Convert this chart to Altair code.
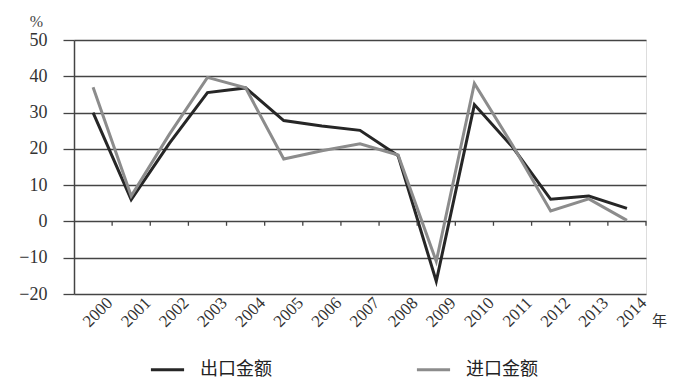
import altair as alt
import pandas as pd

years = [str(y) for y in range(2000, 2015)]
export_vals = [30, 6, 21.5, 35.5, 36.8, 27.8, 26.3, 25.1, 18.1, -16.5, 32.2, 20.5, 6.1, 7.0, 3.6]
import_vals = [37, 7, 24, 39.7, 36.8, 17.2, 19.5, 21.4, 18.3, -11, 38, 21, 2.9, 6.2, 0.3]
series_names = ["出口金额", "进口金额"]
y_ticks = [-20, -10, 0, 10, 20, 30, 40, 50]

rows = []
for name, vals in zip(series_names, [export_vals, import_vals]):
    for y, v in zip(years, vals):
        rows.append({"year": y, "value": v, "series": name})
df = pd.DataFrame(rows)
df_years = pd.DataFrame({"year": years, "zero": [0] * len(years), "low": [-1.2] * len(years)})

FONT = "Liberation Serif, Noto Sans CJK SC"

xscale = alt.Scale(domain=years, paddingInner=0, paddingOuter=0)
yscale = alt.Scale(domain=[-20, 50], nice=False)

x_axis = alt.Axis(title="年", labelAngle=-45, labelAlign="right", labelOffset=17,
                  labelBaseline="middle", labelPadding=6, labelFontSize=17,
                  labelFont=FONT, labelColor="#333", ticks=False, domain=False,
                  grid=False, titleAngle=0, titleX=585, titleY=26,
                  titleAlign="center", titleBaseline="middle", titleFontSize=15,
                  titleFontWeight="normal", titleFont=FONT, titleColor="#333")
y_axis = alt.Axis(title="%", values=y_ticks, grid=True, gridColor="#444",
                  gridWidth=1.3, tickColor="#444", tickSize=11, tickWidth=1.3,
                  domainColor="#444", domainWidth=1.5, labelPadding=16, labelOverlap=False,
                  labelFontSize=18, labelFont=FONT, labelColor="#333",
                  titleAngle=0, titleX=-38, titleY=-19, titleAlign="center",
                  titleBaseline="middle", titleFontSize=16,
                  titleFontWeight="normal", titleFont=FONT, titleColor="#444")

lines = alt.Chart(df).mark_line(strokeWidth=3).encode(
    x=alt.X("year:N", scale=xscale, sort=years, axis=x_axis),
    y=alt.Y("value:Q", scale=yscale, axis=y_axis),
    color=alt.Color("series:N", scale=alt.Scale(domain=series_names, range=["#262626", "#8c8c8c"]),
                    legend=alt.Legend(title=None, orient="none", legendX=75, legendY=311,
                                      direction="horizontal", symbolType="stroke",
                                      symbolSize=1100, symbolStrokeWidth=3,
                                      symbolStrokeColor="#2a2a2a", columnPadding=138,
                                      labelFontSize=18, labelFont=FONT, labelColor="#222",
                                      labelOffset=14)),
    order=alt.Order("series:N", sort="descending"),
)

ticks = alt.Chart(df_years).mark_rule(color="#444", strokeWidth=1.3).encode(
    x=alt.X("year:N", scale=xscale, sort=years, bandPosition=1, axis=x_axis),
    y=alt.Y("zero:Q", scale=yscale, axis=y_axis),
    y2="low:Q",
)

chart = alt.layer(lines, ticks).properties(
    width=572, height=254,
    autosize=alt.AutoSizeParams(type="none"),
    padding={"left": 66, "top": 32, "right": 21, "bottom": 86},
).configure_view(stroke=None).configure(background="white")

chart.save("out.html", embed_options={"renderer": "svg", "actions": False})
